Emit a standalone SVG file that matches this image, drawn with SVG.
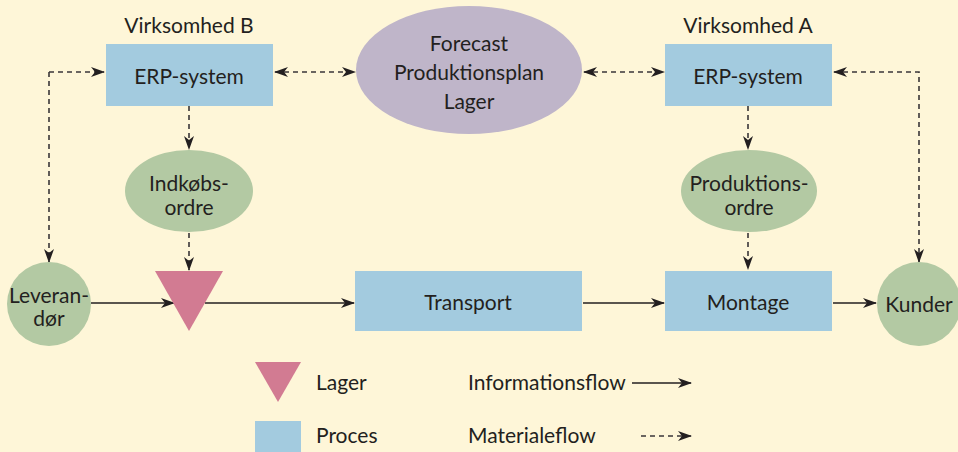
<svg xmlns="http://www.w3.org/2000/svg" width="958" height="452" viewBox="0 0 958 452">
<defs>
<marker id="ah" viewBox="0 0 14 10" markerWidth="14" markerHeight="10" refX="13" refY="5" orient="auto-start-reverse" markerUnits="userSpaceOnUse">
<path d="M0,0 L14,5 L0,10 L4,5 Z" fill="#231f20"/>
</marker>
</defs>
<style>
text{font-family:Lato,"Noto Sans","Liberation Sans",sans-serif;font-size:21px;fill:#231f20;text-anchor:middle;}
.l{text-anchor:start;}
.box{fill:#a3cbdf;}
.grn{fill:#b3c9a3;}
.sol{stroke:#231f20;stroke-width:1.6;fill:none;}
.dsh{stroke:#3a3638;stroke-width:1.6;fill:none;stroke-dasharray:5 4;}
</style>
<rect width="958" height="452" fill="#fef6d8"/>
<g id="connectors">
<path class="dsh" d="M49,72 H104" marker-end="url(#ah)"/>
<path class="dsh" d="M49,72 V262" marker-end="url(#ah)"/>
<path class="dsh" d="M275,72 H355" marker-start="url(#ah)" marker-end="url(#ah)"/>
<path class="dsh" d="M584,72 H664" marker-start="url(#ah)" marker-end="url(#ah)"/>
<path class="dsh" d="M834,72 H919 V262" marker-start="url(#ah)" marker-end="url(#ah)"/>
<path class="dsh" d="M189,106 V149" marker-end="url(#ah)"/>
<path class="dsh" d="M189,233 V270" marker-end="url(#ah)"/>
<path class="dsh" d="M748,106 V149" marker-end="url(#ah)"/>
<path class="dsh" d="M748,233 V269" marker-end="url(#ah)"/>
<path class="sol" d="M91,303 H174" marker-end="url(#ah)"/>
<path class="sol" d="M205,303 H354" marker-end="url(#ah)"/>
<path class="sol" d="M583,303 H664" marker-end="url(#ah)"/>
<path class="sol" d="M833,303 H876" marker-end="url(#ah)"/>
</g>
<g id="virksomhedB"><text x="189" y="33">Virksomhed B</text></g>
<g id="virksomhedA"><text x="748" y="33">Virksomhed A</text></g>
<g id="erpB"><rect class="box" x="106" y="44" width="167" height="62"/><text x="189" y="84">ERP-system</text></g>
<g id="forecast"><ellipse cx="469" cy="70" rx="113" ry="64" fill="#bfb5c9"/>
<text x="469" y="51">Forecast</text><text x="469" y="80">Produktionsplan</text><text x="469" y="109">Lager</text></g>
<g id="erpA"><rect class="box" x="665" y="44" width="167" height="62"/><text x="748" y="84">ERP-system</text></g>
<g id="indkob"><ellipse class="grn" cx="189" cy="191" rx="64" ry="41"/><text x="189" y="191">Indkøbs-</text><text x="189" y="215">ordre</text></g>
<g id="prodordre"><ellipse class="grn" cx="749" cy="191" rx="68" ry="41"/><text x="749" y="191">Produktions-</text><text x="749" y="215">ordre</text></g>
<g id="leverandor"><circle class="grn" cx="49" cy="304" r="42"/><text x="49" y="303">Leveran-</text><text x="49" y="326">dør</text></g>
<g id="lager"><polygon points="155,271 223,271 189,331" fill="#d27b92"/></g>
<g id="transport"><rect class="box" x="355" y="271" width="227" height="60"/><text x="468" y="310">Transport</text></g>
<g id="montage"><rect class="box" x="665" y="271" width="167" height="60"/><text x="748" y="310">Montage</text></g>
<g id="kunder"><circle class="grn" cx="919" cy="304" r="42"/><text x="919" y="312">Kunder</text></g>
<g id="legend">
<polygon points="255,362 301,362 278,402" fill="#d27b92"/>
<text class="l" x="316" y="390">Lager</text>
<rect class="box" x="255" y="421" width="46" height="40"/>
<text class="l" x="316" y="443">Proces</text>
<text class="l" x="468" y="390">Informationsflow</text>
<path class="sol" d="M632,383 H691" marker-end="url(#ah)"/>
<text class="l" x="468" y="443">Materialeflow</text>
<path class="dsh" d="M641,436 H691" stroke-dasharray="4 4" marker-end="url(#ah)"/>
</g>
</svg>
